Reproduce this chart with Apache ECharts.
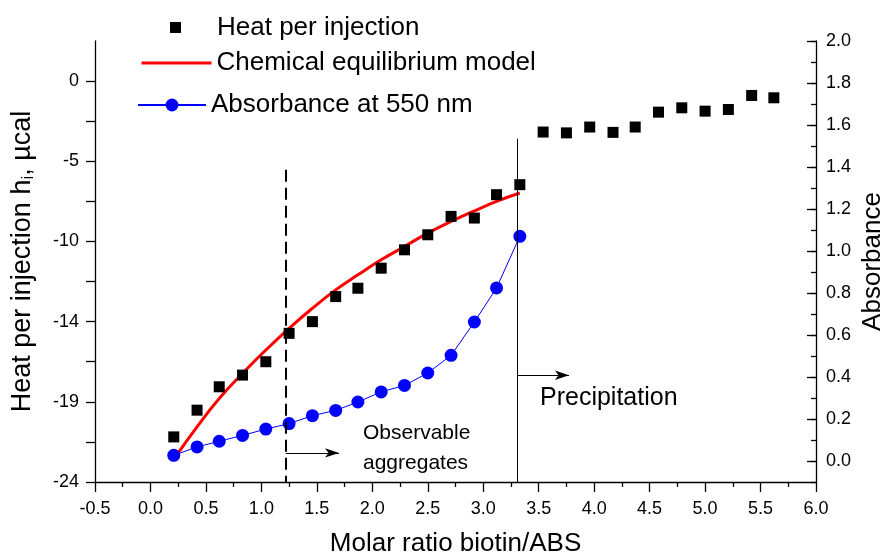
<!DOCTYPE html>
<html><head><meta charset="utf-8">
<script src="https://cdn.jsdelivr.net/npm/echarts@6/dist/echarts.min.js"></script>
<style>html,body{margin:0;padding:0;background:#fff}#c{width:887px;height:553px}</style>
</head><body><div id="c"></div>
<script>
// ---- data ----
const heatX = [0.21,0.42,0.62,0.83,1.04,1.25,1.46,1.67,1.87,2.08,2.29,2.50,2.71,2.92,3.12,3.33,3.54,3.75,3.96,4.17,4.37,4.58,4.79,5.00,5.21,5.42,5.62];
const heatY = [-21.3,-19.7,-18.3,-17.6,-16.8,-15.1,-14.4,-12.9,-12.4,-11.2,-10.1,-9.2,-8.1,-8.2,-6.8,-6.2,-3.05,-3.1,-2.75,-3.07,-2.75,-1.86,-1.6,-1.8,-1.7,-0.86,-1.0];
const modelX = [0.23,0.42,0.62,0.83,1.04,1.25,1.46,1.67,1.87,2.08,2.29,2.50,2.71,2.91,3.12,3.33];
const modelY = [-22.45,-20.7,-19.0,-17.5,-16.1,-14.8,-13.6,-12.5,-11.6,-10.7,-9.9,-9.1,-8.4,-7.8,-7.2,-6.7];
const absX = [0.21,0.42,0.62,0.83,1.04,1.25,1.46,1.67,1.87,2.08,2.29,2.50,2.71,2.92,3.12,3.33];
const absY = [0.027,0.067,0.094,0.122,0.152,0.178,0.216,0.241,0.281,0.329,0.360,0.419,0.503,0.662,0.824,1.070];
// right-axis tick slots, -0.1 .. 2.0 in 0.1 steps (labels shown on every other one)
const rightTickLabels = ['-0.1','0.0','0.1','0.2','0.3','0.4','0.5','0.6','0.7','0.8','0.9','1.0','1.1','1.2','1.3','1.4','1.5','1.6','1.7','1.8','1.9','2.0'];
const seriesNames = ['Heat per injection','Chemical equilibrium model','Absorbance at 550 nm'];
const aggregatesLineX = 1.22, aggregatesLineTop = -5.3;
const precipLineX = 3.31, precipLineTop = -3.45;
const aggregatesArrow = [[1.22,-22.26],[1.70,-22.26]];
const precipArrow = [[3.31,-17.61],[3.773,-17.61]];

const zip = (xs, ys) => xs.map((x,i)=>[x, ys[i]]);
const FONT = 'Liberation Sans, Arial, Helvetica, sans-serif';
const chart = echarts.init(document.getElementById('c'), null, {renderer:'canvas'});

const axisLineStyle = {color:'#000', width:1.3};
const legendText = {fontSize:26, fontFamily:FONT, color:'#000'};
chart.setOption({
  animation:false,
  backgroundColor:'#fff',
  textStyle:{fontFamily:FONT, color:'#000'},
  grid:{left:95, right:71, top:41, bottom:71, outerBoundsMode:'none'},
  legend:[
    {data:[seriesNames[0]], left:170, top:14.5, padding:0, icon:'path://M0,0H10V10H0Z', itemWidth:73, itemHeight:11,
     textStyle:legendText, selectedMode:false},
    {data:[{name:seriesNames[1], itemStyle:{opacity:0}, lineStyle:{width:3, color:'#ff0000'}}], left:140, top:50, padding:0, itemWidth:70, itemHeight:14,
     textStyle:legendText, selectedMode:false},
    {data:[seriesNames[2]], left:137, top:92, padding:0, itemWidth:68, itemHeight:16,
     textStyle:legendText, selectedMode:false}
  ],
  xAxis:{type:'value', min:-0.5, max:6, interval:0.5,
    name:'Molar ratio biotin/ABS', nameLocation:'middle', nameGap:49, nameMoveOverlap:false,
    nameTextStyle:{fontSize:26, fontFamily:FONT, color:'#000'},
    axisLine:{show:true, onZero:false, lineStyle:axisLineStyle},
    axisTick:{show:true, inside:false, length:10, lineStyle:axisLineStyle},
    minorTick:{show:true, splitNumber:2, length:5, lineStyle:axisLineStyle},
    splitLine:{show:false},
    axisLabel:{fontSize:18, color:'#000', margin:18, formatter:v=>v.toFixed(1)}
  },
  yAxis:[
    {type:'value', position:'left', min:-24, max:2.4, interval:2.4,
     name:'Heat per injection h{sub|i}, µcal', nameLocation:'middle', nameGap:58, nameMoveOverlap:false,
     nameTextStyle:{fontSize:27, fontFamily:FONT, color:'#000', rich:{sub:{fontSize:17, fontFamily:FONT, padding:[12,0,0,0]}}},
     axisLine:{show:true, onZero:false, lineStyle:axisLineStyle},
     axisTick:{show:true, inside:false, length:9, lineStyle:axisLineStyle},
     splitLine:{show:false},
     axisLabel:{fontSize:18, color:'#000', margin:16, showMaxLabel:false,
       formatter:v=>{const k=Math.round((v+24)/2.4); return k%2===0 ? String(Math.round(v)+0) : '';}}
    },
    {type:'value', position:'right', min:-0.1, max:2.0, interval:0.1,
     axisLine:{show:true, onZero:false, lineStyle:axisLineStyle},
     axisTick:{show:true, inside:true, length:5, lineStyle:axisLineStyle},
     splitLine:{show:false}, axisLabel:{show:false}
    },
    {type:'category', position:'right', data:rightTickLabels, boundaryGap:false,
     name:'Absorbance', nameLocation:'middle', nameGap:44, nameMoveOverlap:false,
     nameTextStyle:{fontSize:26, fontFamily:FONT, color:'#000'},
     axisLine:{show:false, onZero:false},
     axisTick:{show:true, inside:true, length:9, lineStyle:axisLineStyle, interval:(i)=>i%2===1},
     splitLine:{show:false},
     axisLabel:{show:true, fontSize:18, color:'#000', margin:10, interval:(i)=>i%2===1}
    }
  ],
  series:[
    {name:seriesNames[1], type:'line', xAxisIndex:0, yAxisIndex:0, data:zip(modelX, modelY), smooth:true,
     showSymbol:false, symbol:'none', lineStyle:{color:'#ff0000', width:3}, itemStyle:{color:'#ff0000'}, z:2},
    {name:seriesNames[0], type:'scatter', xAxisIndex:0, yAxisIndex:0, data:zip(heatX, heatY),
     symbol:'rect', symbolSize:11, itemStyle:{color:'#000', opacity:1}, z:3,
     markLine:{silent:true, animation:false, symbol:['none','none'], label:{show:false},
       emphasis:{disabled:true},
       data:[
         [{coord:[aggregatesLineX, aggregatesLineTop], lineStyle:{color:'#000', width:2, type:[12,6]}},{coord:[aggregatesLineX,-24]}],
         [{coord:[precipLineX, precipLineTop], lineStyle:{color:'#000', width:1, type:'solid'}},{coord:[precipLineX,-24]}],
         [{coord:aggregatesArrow[0], symbol:'none', lineStyle:{color:'#000', width:1, type:'solid'}},{coord:aggregatesArrow[1], symbol:'arrow', symbolSize:[7,14]}],
         [{coord:precipArrow[0], symbol:'none', lineStyle:{color:'#000', width:1, type:'solid'}},{coord:precipArrow[1], symbol:'arrow', symbolSize:[7,14]}]
       ]}
    },
    {name:seriesNames[2], type:'line', xAxisIndex:0, yAxisIndex:1, data:zip(absX, absY),
     symbol:'circle', symbolSize:13, showSymbol:true, lineStyle:{color:'#0000ff', width:1}, itemStyle:{color:'#0000ff'}, z:4}
  ],
  graphic:[
    {type:'text', left:363, top:418, style:{text:'Observable\naggregates', font:'21px '+FONT, fill:'#000', lineHeight:30}},
    {type:'text', left:540, top:386, style:{text:'Precipitation', font:'25px '+FONT, fill:'#000'}}
  ]
});
</script></body></html>
